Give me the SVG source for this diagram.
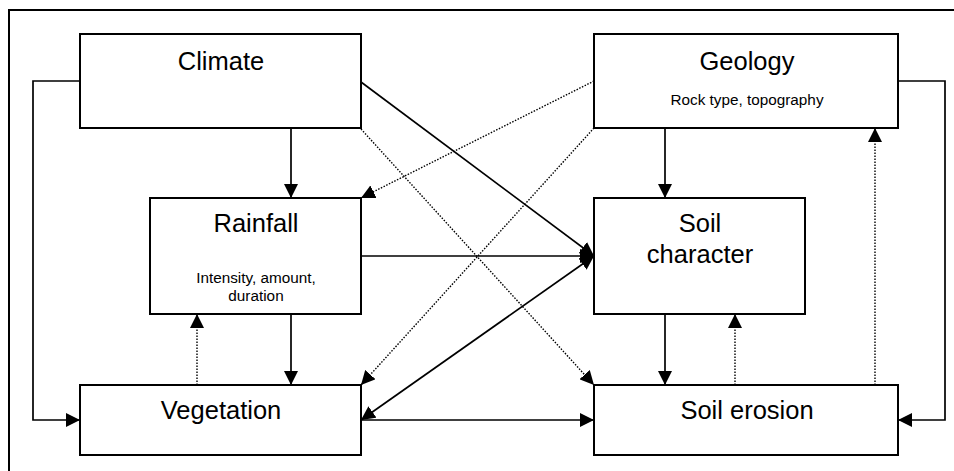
<svg xmlns="http://www.w3.org/2000/svg" width="954" height="471" viewBox="0 0 954 471">
<style>
.box{fill:#fff;stroke:#000;stroke-width:2}
.frame{fill:none;stroke:#000;stroke-width:2}
.c{fill:none;stroke:#000;stroke-width:1.7}
.d{fill:none;stroke:#000;stroke-width:1.4;stroke-dasharray:1.5 1.5}
.big{font-family:"Liberation Sans",Arial,sans-serif;font-size:25.5px;text-anchor:middle;fill:#000}
.small{font-family:"Liberation Sans",Arial,sans-serif;font-size:15.3px;text-anchor:middle;fill:#000}
</style>
<defs>
<marker id="ah" markerUnits="userSpaceOnUse" markerWidth="14" markerHeight="14" refX="14" refY="7" orient="auto">
<path d="M0,0 L14,7 L0,14 z" fill="#000"/>
</marker>
<marker id="ahs" markerUnits="userSpaceOnUse" markerWidth="14" markerHeight="14" refX="0" refY="7" orient="auto">
<path d="M14,0 L0,7 L14,14 z" fill="#000"/>
</marker>
</defs>
<rect x="9" y="10" width="980" height="490" fill="#fff" class="frame"/>
<g id="connectors">
<line class="c" x1="291" y1="128" x2="291" y2="198" marker-end="url(#ah)"/>
<line class="c" x1="291" y1="314" x2="291" y2="385" marker-end="url(#ah)"/>
<line class="d" x1="197" y1="385" x2="197" y2="314" marker-end="url(#ah)"/>
<line class="c" x1="665" y1="128" x2="665" y2="198" marker-end="url(#ah)"/>
<line class="c" x1="665" y1="314" x2="665" y2="385" marker-end="url(#ah)"/>
<line class="d" x1="735" y1="385" x2="735" y2="314" marker-end="url(#ah)"/>
<line class="d" x1="875" y1="385" x2="875" y2="128" marker-end="url(#ah)"/>
<line class="c" x1="361" y1="420" x2="594" y2="420" marker-end="url(#ah)"/>
<polyline class="c" points="80,81 33,81 33,420 80,420" marker-end="url(#ah)"/>
<polyline class="c" points="898,81 945,81 945,420 898,420" marker-end="url(#ah)"/>
<line class="c" x1="361" y1="82" x2="594" y2="256" marker-end="url(#ah)"/>
<line class="c" x1="361" y1="256" x2="594" y2="256" marker-end="url(#ah)"/>
<line class="c" x1="361" y1="420" x2="594" y2="256" marker-start="url(#ahs)" marker-end="url(#ah)"/>
<line class="d" x1="361" y1="129" x2="594" y2="385" marker-end="url(#ah)"/>
<line class="d" x1="594" y1="81" x2="361" y2="198" marker-end="url(#ah)"/>
<line class="d" x1="594" y1="128" x2="361" y2="385" marker-end="url(#ah)"/>
</g>
<g id="climate">
<rect class="box" x="80" y="34" width="281" height="94"/>
<text class="big" x="221" y="70">Climate</text>
</g>
<g id="geology">
<rect class="box" x="594" y="34" width="304" height="94"/>
<text class="big" x="747" y="70">Geology</text>
<text class="small" x="747" y="105">Rock type, topography</text>
</g>
<g id="rainfall">
<rect class="box" x="150" y="198" width="211" height="116"/>
<text class="big" x="256" y="232">Rainfall</text>
<text class="small" x="256" y="283">Intensity, amount,</text>
<text class="small" x="256" y="301">duration</text>
</g>
<g id="soil-character">
<rect class="box" x="594" y="198" width="211" height="116"/>
<text class="big" x="700" y="232">Soil</text>
<text class="big" x="700" y="263">character</text>
</g>
<g id="vegetation">
<rect class="box" x="80" y="385" width="281" height="70"/>
<text class="big" x="221" y="419">Vegetation</text>
</g>
<g id="soil-erosion">
<rect class="box" x="594" y="385" width="304" height="70"/>
<text class="big" x="747" y="419">Soil erosion</text>
</g>
</svg>
